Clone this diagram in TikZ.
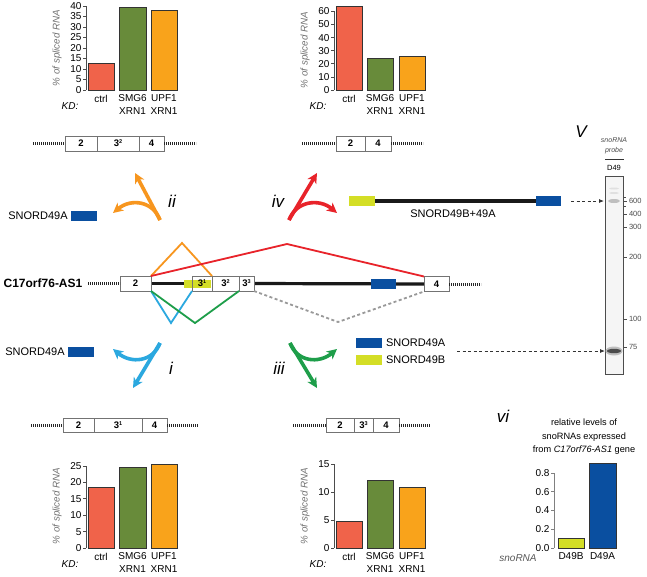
\documentclass[tikz,border=0pt]{standalone}
\usepackage{fontspec}
\setmainfont{Liberation Sans}
\usetikzlibrary{arrows.meta,backgrounds}
\definecolor{barRed}{HTML}{F0634A}
\definecolor{barGreen}{HTML}{688B3A}
\definecolor{barOrange}{HTML}{F9A31B}
\definecolor{arrOrange}{HTML}{F7961F}
\definecolor{arrRed}{HTML}{E8232A}
\definecolor{arrBlue}{HTML}{2BA8DF}
\definecolor{arrGreen}{HTML}{1E9E4A}
\definecolor{snoBlue}{HTML}{0A4FA0}
\definecolor{snoYellow}{HTML}{D4DE26}
\newcommand{\supx}[1]{\raisebox{3pt}{\fontsize{5.5}{5.5}\selectfont #1}}
\begin{document}
\begin{tikzpicture}[x=1pt,y=-1pt,
  every node/.style={inner sep=0pt, outer sep=0pt},
  ticklab/.style={font=\fontsize{10}{10}\selectfont, anchor=east, xshift=-1.5pt},
  axisline/.style={draw=black!70, line width=0.7pt},
  bar/.style={draw=black!80, line width=0.8pt},
  barlab/.style={font=\fontsize{10}{12.5}\selectfont, align=center, anchor=north},
  kd/.style={font=\fontsize{10}{10}\selectfont\itshape},
  ytitle/.style={font=\fontsize{9.8}{10}\selectfont\itshape, text=black!55, rotate=90},
  exon/.style={draw=black!55, line width=0.6pt, fill=white, minimum height=15pt, font=\fontsize{9.5}{9.5}\selectfont\bfseries},
  intron/.style={line width=3.2pt, black!90},
  flank/.style={line width=3pt, dash pattern=on 0.9pt off 1.1pt, black!85},
  splice/.style={line width=1.8pt, line join=miter},
  bigarrow/.style={line width=3.6pt, -{Stealth[length=10pt, width=10pt, inset=3pt]}},
  roman/.style={font=\fontsize{17}{17}\selectfont\itshape},
  lab/.style={font=\fontsize{11}{11}\selectfont},
  dasharrow/.style={draw=black!80, line width=0.8pt, dash pattern=on 3pt off 2.5pt, -{Latex[length=5pt,width=4pt]}},
  gellab/.style={font=\fontsize{7.5}{8}\selectfont, anchor=west},
  snobox/.style={minimum width=26pt, minimum height=10pt},
]
\useasboundingbox (0,0) rectangle (647,576);

% ================= chart 1 (top-left) =================
\draw[axisline] (86,6) -- (86,90);
\foreach \v in {0,5,...,40} \draw[axisline] (86,{90-2.1*\v}) -- (83,{90-2.1*\v}) node[ticklab] (ca\v) {\v};
\draw[bar, fill=barRed] (88,90) rectangle (114,{90-2.1*12.5});
\draw[bar, fill=barGreen] (119,90) rectangle (146,{90-2.1*39.5});
\draw[bar, fill=barOrange] (151,90) rectangle (177,{90-2.1*38});
\node[barlab] (cax1) at (101,95) {ctrl};
\node[barlab] (cax2) at (132.5,95) {SMG6\\XRN1};
\node[barlab] (cax3) at (164,95) {UPF1\\XRN1};
\node[kd] (cakd) at (70,106) {KD:};
\node[ytitle] (cay) at (57,48) {\% of spliced RNA};

% ================= chart 2 (top-middle) =================
\draw[axisline] (334,11.4) -- (334,90);
\foreach \v in {0,10,...,60} \draw[axisline] (334,{90-1.31*\v}) -- (331,{90-1.31*\v}) node[ticklab] (cb\v) {\v};
\draw[bar, fill=barRed] (336,90) rectangle (362,{90-1.31*64});
\draw[bar, fill=barGreen] (367,90) rectangle (393,{90-1.31*24});
\draw[bar, fill=barOrange] (399,90) rectangle (425,{90-1.31*25.5});
\node[barlab] (cbx1) at (349,95) {ctrl};
\node[barlab] (cbx2) at (380,95) {SMG6\\XRN1};
\node[barlab] (cbx3) at (412,95) {UPF1\\XRN1};
\node[kd] (cbkd) at (318,106) {KD:};
\node[ytitle] (cby) at (305,50) {\% of spliced RNA};

% ================= chart 3 (bottom-left) =================
\draw[axisline] (86,466) -- (86,548);
\foreach \v in {0,5,...,25} \draw[axisline] (86,{548-3.28*\v}) -- (83,{548-3.28*\v}) node[ticklab] (cc\v) {\v};
\draw[bar, fill=barRed] (88,548) rectangle (114,{548-3.28*18.5});
\draw[bar, fill=barGreen] (119,548) rectangle (146,{548-3.28*24.6});
\draw[bar, fill=barOrange] (151,548) rectangle (177,{548-3.28*25.5});
\node[barlab] (ccx1) at (101,553) {ctrl};
\node[barlab] (ccx2) at (132.5,553) {SMG6\\XRN1};
\node[barlab] (ccx3) at (164,553) {UPF1\\XRN1};
\node[kd] (cckd) at (70,564) {KD:};
\node[ytitle] (ccy) at (57,506) {\% of spliced RNA};

% ================= chart 4 (bottom-middle) =================
\draw[axisline] (334,464) -- (334,548);
\foreach \v in {0,5,10,15} \draw[axisline] (334,{548-5.6*\v}) -- (331,{548-5.6*\v}) node[ticklab] (cd\v) {\v};
\draw[bar, fill=barRed] (336,548) rectangle (362,{548-5.6*4.8});
\draw[bar, fill=barGreen] (367,548) rectangle (393,{548-5.6*12.1});
\draw[bar, fill=barOrange] (399,548) rectangle (425,{548-5.6*10.9});
\node[barlab] (cdx1) at (349,553) {ctrl};
\node[barlab] (cdx2) at (380,553) {SMG6\\XRN1};
\node[barlab] (cdx3) at (412,553) {UPF1\\XRN1};
\node[kd] (cdkd) at (318,564) {KD:};
\node[ytitle] (cdy) at (305,506) {\% of spliced RNA};

% ================= chart 5 (bottom-right) =================
\draw[axisline, draw=black!50] (554,473) -- (554,548);
\foreach \v/\n in {0.0/0,0.2/1,0.4/2,0.6/3,0.8/4} \draw[axisline, draw=black!50] (554,{548-93.75*\v}) -- (551,{548-93.75*\v}) node[ticklab] (ce\n) {\v};
\draw[bar, fill=snoYellow] (558,548) rectangle (584,{548-93.75*0.1});
\draw[bar, fill=snoBlue] (589,548) rectangle (616,{548-93.75*0.9});
\node[barlab] (cex1) at (571,553) {D49B};
\node[barlab] (cex2) at (602.5,553) {D49A};
\node[kd, text=black!65] (cesn) at (518,558) {snoRNA};
\node[font=\fontsize{9.2}{13.5}\selectfont, align=center] (cet) at (584,437) {relative levels of\\snoRNAs expressed\\from \textit{C17orf76-AS1} gene};
\node[roman] (rvi) at (503,416) {vi};

% ================= gene structure =================
\node[font=\fontsize{12}{12}\selectfont\bfseries] (gname) at (43,283.5) {C17orf76-AS1};
\node[exon, minimum width=31pt] (e2) at (135.5,283.5) {2};
\node[exon, minimum width=20pt, fill=none] (e31) at (202,283.5) {3\supx{1}};
\node[exon, minimum width=27pt] (e32) at (225.5,283.5) {3\supx{2}};
\node[exon, minimum width=15pt] (e33) at (246.5,283.5) {3\supx{3}};
\node[exon, minimum width=25pt] (e4) at (436.5,284) {4};
\begin{pgfonlayer}{background}
\fill[white] (0,0) rectangle (647,576);
\draw[intron] (e2.east) -- (e31.west);
\draw[intron] (e33.east) -- (e4.west);
\node[fill=snoYellow, minimum width=27pt, minimum height=8pt] (yel) at (197.5,283.5) {};
\end{pgfonlayer}
\node[fill=snoBlue, minimum width=25pt, minimum height=10pt] (snA) at (383.5,283.5) {};
\coordinate (gf1) at (88,283.5);
\coordinate (gf2) at (481,284);
\draw[flank] (gf1) -- (e2.west);
\draw[flank] (e4.east) -- (gf2);
% splice lines
\coordinate (pkO) at (182,243);
\coordinate (pkR) at (287,244);
\coordinate (pkB) at (171,323);
\coordinate (pkG) at (195,323);
\coordinate (pkD) at (338,322);
\draw[splice, arrOrange] (e2.north east) -- (pkO) -- (e31.north east);
\draw[splice, arrRed] (e2.north east) -- (pkR) -- (e4.north west);
\draw[splice, arrBlue] (e2.south east) -- (pkB) -- (e31.south west);
\draw[splice, arrGreen] (e2.south east) -- (pkG) -- (e32.south east);
\draw[splice, black!40, dash pattern=on 3pt off 2.5pt] (e33.south east) -- (pkD) -- (e4.south west);

% ================= spliced products =================
% ii
\node[exon, minimum width=32pt] (ii2) at (81,143.5) {2};
\node[exon, minimum width=42pt] (ii32) at (118,143.5) {3\supx{2}};
\node[exon, minimum width=25pt] (ii4) at (151.5,143.5) {4};
\coordinate (iif1) at (33,143.5);
\coordinate (iif2) at (196,143.5);
\draw[flank] (iif1) -- (ii2.west);
\draw[flank] (ii4.east) -- (iif2);
% iv
\node[exon, minimum width=29pt] (iv2) at (350.5,143.5) {2};
\node[exon, minimum width=26pt] (iv4) at (378,143.5) {4};
\coordinate (ivf1) at (302,143.5);
\coordinate (ivf2) at (423,143.5);
\draw[flank] (ivf1) -- (iv2.west);
\draw[flank] (iv4.east) -- (ivf2);
% i
\node[exon, minimum width=31pt, minimum height=14pt] (i2) at (78.5,425) {2};
\node[exon, minimum width=48pt, minimum height=14pt] (i31) at (118,425) {3\supx{1}};
\node[exon, minimum width=25pt, minimum height=14pt] (i4) at (154.5,425) {4};
\coordinate (if1) at (31,425);
\coordinate (if2) at (198,425);
\draw[flank] (if1) -- (i2.west);
\draw[flank] (i4.east) -- (if2);
% iii
\node[exon, minimum width=28pt, minimum height=14pt] (iii2) at (340,425) {2};
\node[exon, minimum width=19pt, minimum height=14pt] (iii33) at (363.5,425) {3\supx{3}};
\node[exon, minimum width=26pt, minimum height=14pt] (iii4) at (386,425) {4};
\coordinate (iiif1) at (293,425);
\coordinate (iiif2) at (430,425);
\draw[flank] (iiif1) -- (iii2.west);
\draw[flank] (iii4.east) -- (iiif2);

% ================= big arrows =================
\coordinate (aOb) at (160,220);
\coordinate (aOt) at (135,173);
\coordinate (aOl) at (113,213);
\draw[bigarrow, arrOrange] (aOb) -- (aOt);
\draw[bigarrow, arrOrange] (aOb) .. controls (153,201) and (131,198) .. (aOl);
\coordinate (aRb) at (289,220);
\coordinate (aRt) at (317,173);
\coordinate (aRr) at (337,213);
\draw[bigarrow, arrRed] (aRb) -- (aRt);
\draw[bigarrow, arrRed] (aRb) .. controls (296,201) and (319,198) .. (aRr);
\coordinate (aBb) at (160,343);
\coordinate (aBt) at (133,388);
\coordinate (aBl) at (113,349);
\draw[bigarrow, arrBlue] (aBb) -- (aBt);
\draw[bigarrow, arrBlue] (aBb) .. controls (153,362) and (131,364) .. (aBl);
\coordinate (aGb) at (290,343);
\coordinate (aGt) at (317,388);
\coordinate (aGr) at (337,349);
\draw[bigarrow, arrGreen] (aGb) -- (aGt);
\draw[bigarrow, arrGreen] (aGb) .. controls (297,362) and (319,364) .. (aGr);
\node[roman] (rii) at (172,201) {ii};
\node[roman] (riv) at (278,201) {iv};
\node[roman] (ri) at (171,368) {i};
\node[roman] (riii) at (279,368) {iii};

% ================= snoRNA labels =================
\node[lab] (sA1) at (38,216) {SNORD49A};
\node[fill=snoBlue, snobox] (bA1) at (84,215.5) {};
\node[lab] (sA2) at (35,352) {SNORD49A};
\node[fill=snoBlue, snobox] (bA2) at (81,351.5) {};
\node[fill=snoBlue, snobox] (lgA) at (369,342.5) {};
\node[lab, anchor=west] (lgAt) at (386,342.5) {SNORD49A};
\node[fill=snoYellow, snobox] (lgB) at (369,360) {};
\node[lab, anchor=west] (lgBt) at (386,360) {SNORD49B};
% construct
\node[fill=snoYellow, snobox] (cY) at (362,201) {};
\node[fill=snoBlue, snobox, minimum width=25pt] (cB) at (548.5,201) {};
\draw[intron] (cY) -- (cB);
\node[lab] (cLab) at (453,213.5) {SNORD49B+49A};

% ================= gel =================
\node[draw=black!70, line width=0.7pt, fill=black!4, minimum width=18pt, minimum height=198pt] (gel) at (614,275) {};
\fill[black!12] (614,188.5) ellipse (5 and 1);
\fill[black!12] (614,193) ellipse (5 and 1);
\fill[black!25] (614,201) ellipse (6 and 2);
\fill[black!25] (614,351) ellipse (8.5 and 4.5);
\fill[black!70] (614,351) ellipse (7 and 2.2);
\foreach \y/\t in {201/600, 214/400, 227/300, 257/200, 319/100, 347/75}
  \draw[black!70, line width=0.6pt] (623,\y) -- (627,\y) node[gellab, xshift=2pt] (m\t) {\t};
\draw[black!70, line width=0.5pt] (623,197) -- (625.5,197);
\draw[black!70, line width=0.5pt] (623,206) -- (625.5,206);
\node[roman] (rv) at (581,132) {V};
\node[font=\fontsize{7}{9.5}\selectfont\itshape, align=center, text=black!70] (gt) at (614,146) {snoRNA\\probe};
\coordinate (gl1) at (605,159);
\coordinate (gl2) at (624,159);
\draw[black!80, line width=0.6pt] (gl1) -- (gl2);
\node[font=\fontsize{7.5}{8}\selectfont] (gd) at (614,168) {D49};
% dashed arrows
\coordinate (da1s) at (571,201);
\coordinate (da1e) at (604,201);
\coordinate (da2s) at (457,351);
\coordinate (da2e) at (605,351);
\draw[dasharrow] (da1s) -- (da1e);
\draw[dasharrow] (da2s) -- (da2e);
\end{tikzpicture}
\end{document}
